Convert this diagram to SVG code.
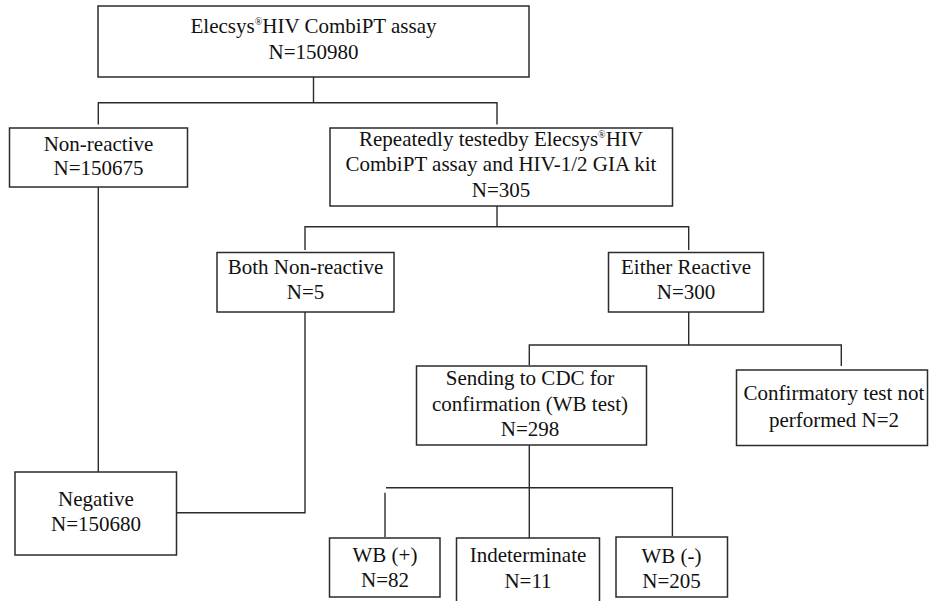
<svg xmlns="http://www.w3.org/2000/svg" width="929" height="601" viewBox="0 0 929 601" font-family="'Liberation Serif', 'DejaVu Serif', serif">
<style>
.box{fill:#fff;stroke:#2b2b2b;stroke-width:1.5}
.ln{fill:none;stroke:#2b2b2b;stroke-width:1.4}
text{font-family:'Liberation Serif','DejaVu Serif',serif;font-size:21px;fill:#111;text-anchor:middle}
.sup{font-size:10px}
</style>
<rect width="929" height="601" fill="#fff"/>
<g id="connectors">
<path class="ln" d="M313.5 77 V102.7"/>
<path class="ln" d="M98.3 124.5 V102.7 H497 V124.5"/>
<path class="ln" d="M98.3 187 V472"/>
<path class="ln" d="M497 206 V226.7"/>
<path class="ln" d="M305 250 V226.7 H688.7 V250"/>
<path class="ln" d="M305 312 V512.7 H176.5"/>
<path class="ln" d="M688.7 312 V345"/>
<path class="ln" d="M529.3 365 V345 H841.3 V366"/>
<path class="ln" d="M529.3 445.3 V538"/>
<path class="ln" d="M386 487.7 H672.4 V536"/>
<path class="ln" d="M385 492.7 V537"/>
</g>
<g id="n-top">
<rect class="box" x="98" y="6" width="431" height="71"/>
<text x="313.5" y="33">Elecsys<tspan class="sup" dy="-8">®</tspan><tspan dy="8">HIV CombiPT assay</tspan></text>
<text x="313.5" y="59">N=150980</text>
</g>
<g id="n-nonreactive">
<rect class="box" x="9.5" y="128" width="178" height="59"/>
<text x="98.5" y="150.7">Non-reactive</text>
<text x="98.5" y="175.2">N=150675</text>
</g>
<g id="n-repeat">
<rect class="box" x="330" y="128" width="342.5" height="78"/>
<text x="501" y="145.7">Repeatedly testedby Elecsys<tspan class="sup" dy="-8">®</tspan><tspan dy="8">HIV</tspan></text>
<text x="501" y="170.7">CombiPT assay and HIV-1/2 GIA kit</text>
<text x="501" y="196.5">N=305</text>
</g>
<g id="n-both">
<rect class="box" x="217" y="252.5" width="177" height="59.5"/>
<text x="305.5" y="274">Both Non-reactive</text>
<text x="305.5" y="299.3">N=5</text>
</g>
<g id="n-either">
<rect class="box" x="608.5" y="252.5" width="155" height="59.5"/>
<text x="686" y="274">Either Reactive</text>
<text x="686" y="299.3">N=300</text>
</g>
<g id="n-sending">
<rect class="box" x="416.5" y="366" width="230" height="79"/>
<text x="530" y="385">Sending to CDC for</text>
<text x="530" y="411">confirmation (WB test)</text>
<text x="530" y="436">N=298</text>
</g>
<g id="n-confirm">
<rect class="box" x="736.5" y="370" width="191" height="75.5"/>
<text x="834" y="400">Confirmatory test not</text>
<text x="834" y="426.7">performed N=2</text>
</g>
<g id="n-negative">
<rect class="box" x="15" y="472" width="161.5" height="83"/>
<text x="96" y="506">Negative</text>
<text x="96" y="530.7">N=150680</text>
</g>
<g id="n-wbpos">
<rect class="box" x="329.5" y="538" width="110.5" height="59"/>
<text x="385" y="561.7">WB (+)</text>
<text x="385" y="586.7">N=82</text>
</g>
<g id="n-indet">
<rect class="box" x="456.5" y="538" width="143" height="70"/>
<text x="528" y="561.7">Indeterminate</text>
<text x="528" y="587.7">N=11</text>
</g>
<g id="n-wbneg">
<rect class="box" x="616" y="537" width="111.5" height="60"/>
<text x="671.5" y="562.5">WB (-)</text>
<text x="671.5" y="588">N=205</text>
</g>
</svg>
